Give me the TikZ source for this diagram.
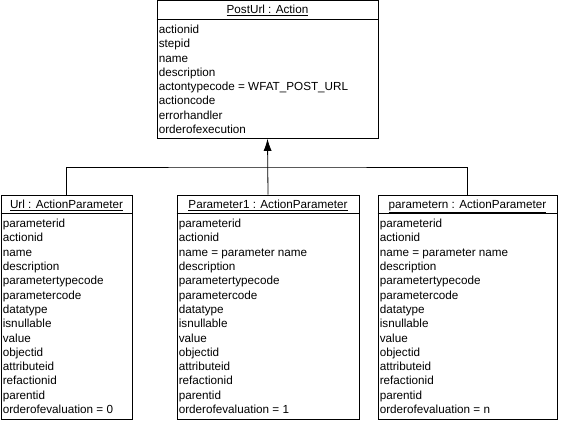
\documentclass[tikz,border=0pt]{standalone}
\usepackage{fontspec}
\setmainfont{Liberation Sans}
\usetikzlibrary{positioning}
\usetikzlibrary{arrows.meta}

\begin{document}
\begin{tikzpicture}[x=1pt, y=1pt, font=\fontsize{11.7}{13}\selectfont,
  classbox/.style={draw, line width=0.8pt, inner sep=0pt},
  classtitle/.style={inner sep=0pt, text height=8.5pt, text depth=2.5pt},
  attr/.style={anchor=west, inner sep=1pt, text height=8.5pt, text depth=2.5pt},
  inherit/.style={line width=0.8pt, -{Latex[length=12pt,width=8pt]}}]
\useasboundingbox (0,0) rectangle (561,420);

% the action object
\node [classbox, minimum width=221pt, minimum height=138pt] (post) at (267.5,350.6) {};
\draw [line width=0.8pt] ([yshift=-19pt]post.north west) -- ([yshift=-19pt]post.north east);
\node [classtitle] (posttitle) at ([yshift=-11pt]post.north) {\underline{PostUrl : Action}};
\foreach \t [count=\i] in {actionid, stepid, name, description,
    {actontypecode = WFAT\_POST\_URL}, actioncode, errorhandler, orderofexecution}
  \node [attr] (post\i) at ([xshift=1pt, yshift={-(16.2+14.3*\i)*1pt}]post.north west) {\t};

% the parameter objects
\foreach \nm/\cx/\w/\title in {url/66.5/131/Url, p1/268/182/Parameter1, pn/467.5/179/parametern} {
  \node [classbox, minimum width=\w pt, minimum height=224pt] (\nm) at (\cx,113) {};
  \draw [line width=0.8pt] ([yshift=-19pt]\nm.north west) -- ([yshift=-19pt]\nm.north east);
  \node [classtitle] (\nm title) at ([yshift=-11pt]\nm.north) {\underline{\title\ : ActionParameter}};
}
\foreach \nm/\nameattr/\ord in {url/name/0, p1/{name = parameter name}/1, pn/{name = parameter name}/n} {
  \foreach \t [count=\i] in {parameterid, actionid, \nameattr, description,
      parametertypecode, parametercode, datatype, isnullable, value, objectid,
      attributeid, refactionid, parentid, {orderofevaluation = \ord}}
    \node [attr] (\nm\i) at ([xshift=1pt, yshift={-(15.7+14.3*\i)*1pt}]\nm.north west) {\t};
}

% generalisation
\coordinate (bus) at (268,253);
\draw [line width=0.8pt] (url.north) |- (bus) -| (pn.north);
\draw [inherit] (p1.north) -- (post.south);
\end{tikzpicture}
\end{document}
